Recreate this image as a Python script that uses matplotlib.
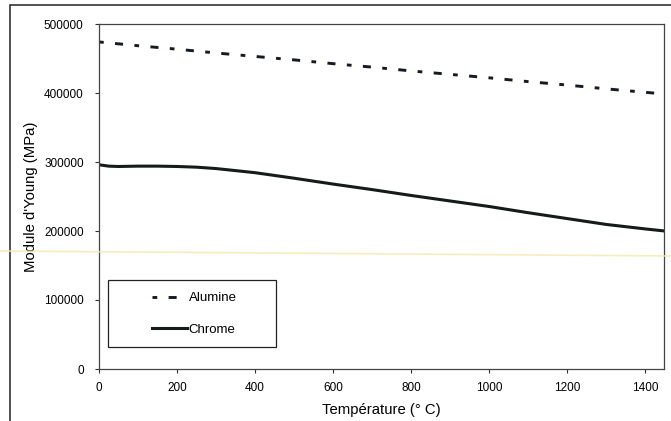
import matplotlib
matplotlib.use('Agg')
import matplotlib.pyplot as plt
from matplotlib.patches import Rectangle
from matplotlib.lines import Line2D

plt.rcParams['font.family'] = ['Liberation Sans', 'DejaVu Sans']
plt.rcParams['font.size'] = 8.5
plt.rcParams['lines.scale_dashes'] = False

# Module d'Young vs température
temp_alu = [0, 100, 200, 300, 400, 500, 600, 700, 800, 900, 1000, 1100, 1200, 1300, 1400, 1450]
alumine = [474000, 468500, 463500, 458000, 453000, 448000, 442500, 437500,
           432000, 427000, 422000, 416500, 411500, 406000, 401000, 398500]

temp_cr = [0, 25, 50, 100, 150, 200, 250, 300, 350, 400, 450, 500, 600, 700,
           800, 900, 1000, 1100, 1200, 1300, 1400, 1450]
chrome = [296000, 294000, 293500, 294000, 294000, 293500, 292500, 290500, 287500,
          284500, 280500, 276500, 268000, 260000, 251500, 243500, 235500, 226500,
          218000, 209500, 203000, 200000]

x_ticks = [0, 200, 400, 600, 800, 1000, 1200, 1400]
y_ticks = [0, 100000, 200000, 300000, 400000, 500000]

W, H = 671, 421
fig = plt.figure(figsize=(W / 100, H / 100), dpi=100)
ax = fig.add_axes([99 / W, 1 - 369 / H, (664 - 99) / W, (369 - 24) / H])

ax.plot(temp_alu, alumine, color='#161a22', lw=2.1, solid_capstyle='butt',
        dash_capstyle='butt', dashes=[3.4, 8.2, 5.8, 8.2], label='Alumine')
ax.plot(temp_cr, chrome, color='#141c18', lw=2.2, label='Chrome')

ax.set_xlim(0, 1448)
ax.set_ylim(0, 500000)
ax.set_xticks(x_ticks)
ax.set_yticks(y_ticks)
ax.set_xticklabels([str(v) for v in x_ticks])
ax.set_yticklabels([str(v) for v in y_ticks])
ax.tick_params(direction='out', length=3, width=0.8, color='#333333', labelsize=8.5)
ax.tick_params(axis='y', pad=8)
ax.tick_params(axis='x', pad=6.5)
for sp in ax.spines.values():
    sp.set_color('#444444')
    sp.set_linewidth(0.9)

ax.set_xlabel('Température (° C)', fontsize=10.7, labelpad=6.5)
ax.set_ylabel("Module d'Young (MPa)", fontsize=10.7, labelpad=4.5)

# legend box
ax.add_patch(Rectangle((0.016, 0.064), 0.297, 0.194, transform=ax.transAxes,
                       facecolor='white', edgecolor='#222222', lw=0.9, zorder=4))
leg = ax.legend(loc='center left', bbox_to_anchor=(0.083, 0.16), frameon=False,
                borderpad=0, handlelength=2.6, handletextpad=0.15,
                labelspacing=1.45, fontsize=9.5)
leg.set_zorder(5)

# outer chart frame
fig.add_artist(Rectangle((10 / W, -0.05), 1.1, 1 - 5 / H + 0.05, transform=fig.transFigure,
                         fill=False, edgecolor='#333333', lw=1.2, clip_on=False))
# faint scan streak
fig.add_artist(Line2D([0, 1], [1 - 251 / H, 1 - 256 / H], transform=fig.transFigure,
                      color='#f5e8b0', lw=1.2, alpha=0.8))

fig.savefig('out.png', dpi=100, facecolor='white')
